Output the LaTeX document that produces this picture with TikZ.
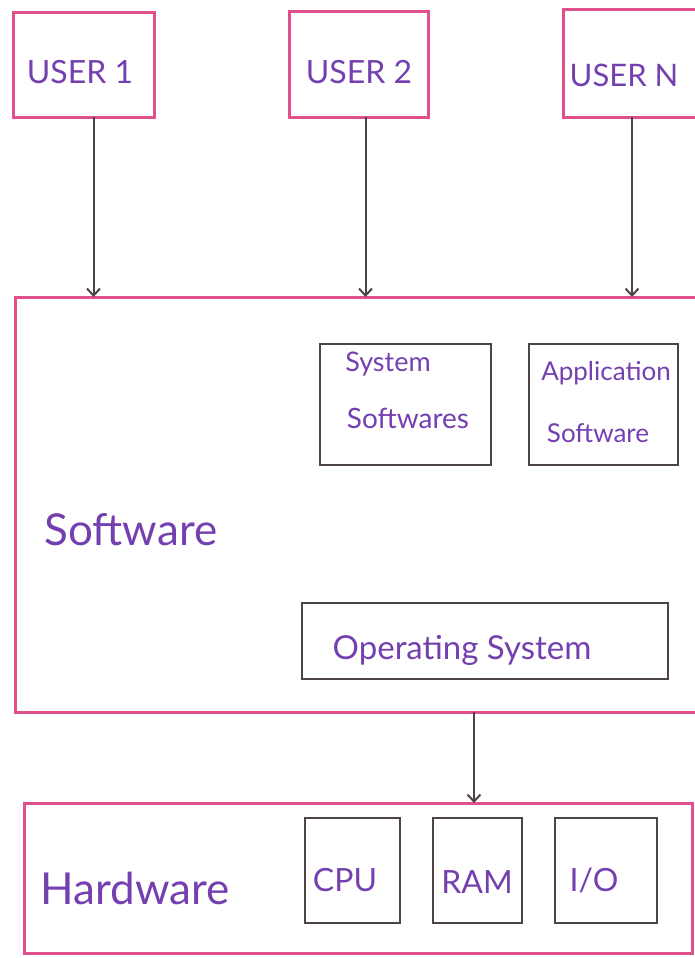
\documentclass[tikz,border=0pt]{standalone}
\usepackage{fontspec}
\setmainfont{Lato}
\usetikzlibrary{arrows.meta}
\definecolor{penpink}{HTML}{E0508C}
\definecolor{pengray}{HTML}{4D4545}
\definecolor{penpurple}{HTML}{7440B0}
\begin{document}
\begin{tikzpicture}[x=1pt,y=-1pt,
  layer/.style={draw=penpink, line width=3pt, rectangle, anchor=north west, inner sep=0pt, outer sep=0pt},
  part/.style={draw=pengray, line width=2.8pt, rectangle, anchor=north west, inner sep=0pt, outer sep=0pt},
  hand/.style={text=penpurple, inner sep=0pt, font=\fontsize{#1}{#1}\selectfont},
  hand/.default=28,
  flow/.style={draw=pengray, line width=2pt, -{Straight Barb[length=7pt,width=13pt,line width=2pt]}}
]
\useasboundingbox (0,0) rectangle (695,958);
\clip (0,0) rectangle (695,958);

% users
\node[layer, minimum width=141pt, minimum height=104pt] (u1) at (13,13) {};
\node[layer, minimum width=139pt, minimum height=105pt] (u2) at (289,12) {};
\node[layer, minimum width=160pt, minimum height=107pt] (un) at (563,10) {};
\node[hand=32] (u1t) at (80,72) {USER 1};
\node[hand=32] (u2t) at (359,72) {USER 2};
\node[hand=31] (unt) at (624,75) {USER N};

% software layer
\node[layer, minimum width=705pt, minimum height=415pt] (sw) at (15,297) {};
\node[hand=44] (swt) at (131,530) {Software};
\node[part, minimum width=171pt, minimum height=121pt] (sys) at (320,344) {};
\node[hand=27] (syst1) at (388,364) {System};
\node[hand=28] (syst2) at (408,418) {Softwares};
\node[part, minimum width=149pt, minimum height=121pt] (app) at (529,344) {};
\node[hand=26] (appt1) at (606,373) {Application};
\node[hand=26] (appt2) at (598,433) {Software};
\node[part, minimum width=366pt, minimum height=76pt] (os) at (302,603) {};
\node[hand=33] (ost) at (462,650) {Operating System};

% hardware layer
\node[layer, minimum width=668pt, minimum height=150pt] (hw) at (24,803) {};
\node[hand=44] (hwt) at (135,888) {Hardware};
\node[part, minimum width=95pt, minimum height=105pt] (cpu) at (305,818) {};
\node[hand=32] (cput) at (345,880) {CPU};
\node[part, minimum width=89pt, minimum height=105pt] (ram) at (433,818) {};
\node[hand=32] (ramt) at (477,882) {RAM};
\node[part, minimum width=102pt, minimum height=105pt] (io) at (555,818) {};
\node[hand=32] (iot) at (594,880) {I/O};

% connectors
\draw[flow] ([xshift=10pt]u1.south) -- ([xshift=10pt]u1.south |- sw.north);
\draw[flow] ([xshift=7pt]u2.south) -- ([xshift=7pt]u2.south |- sw.north);
\draw[flow] ([xshift=-11pt]un.south) -- ([xshift=-11pt]un.south |- sw.north);
\draw[flow] ([xshift=-11pt]os.south |- sw.south) -- ([xshift=-11pt]os.south |- hw.north);
\end{tikzpicture}
\end{document}
